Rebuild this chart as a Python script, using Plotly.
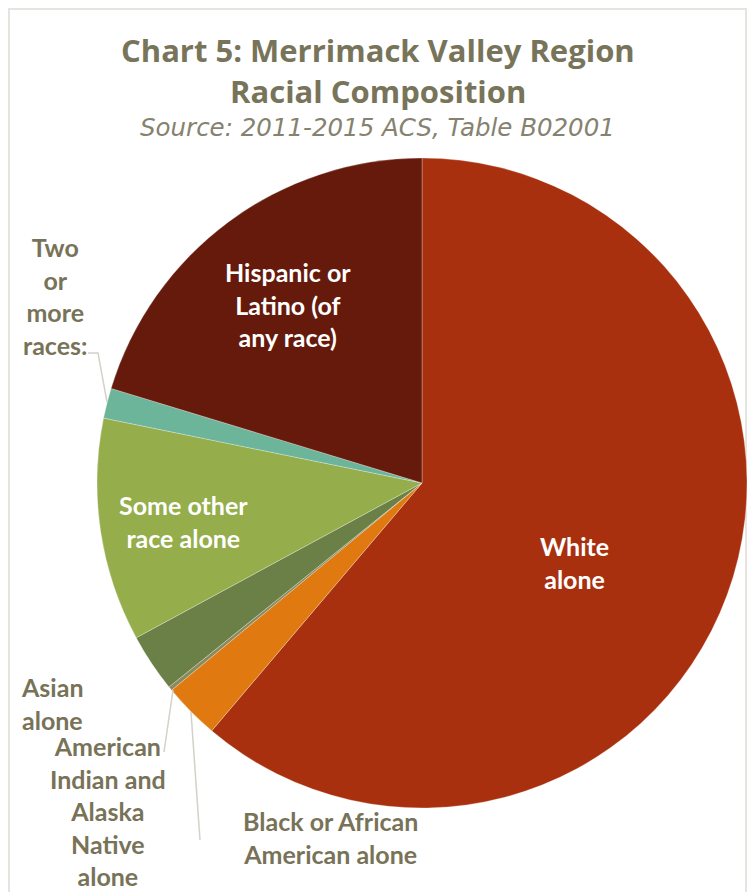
import plotly.graph_objects as go

categories = ["White alone", "Black or African American alone",
              "American Indian and Alaska Native alone", "Asian alone",
              "Some other race alone", "Two or more races:",
              "Hispanic or Latino (of any race)"]
shares = [61.2, 2.8, 0.2, 2.9, 11.1, 1.5, 20.3]
colors = ["#a9300f", "#e07a10", "#8c8a5c", "#6b8047", "#95ad4a", "#6db59a", "#651a0c"]

W, H = 749, 892
cx, cy, R = 422, 483, 325

fig = go.Figure(go.Pie(
    labels=categories, values=shares, sort=False, direction="clockwise", rotation=0,
    marker=dict(colors=colors, line=dict(color="rgba(255,255,255,0.35)", width=0.8)),
    textinfo="none", hoverinfo="label+percent", showlegend=False,
    domain=dict(x=[(cx - R) / W, (cx + R) / W], y=[(H - cy - R) / H, (H - cy + R) / H]),
))

def px(x): return x / W
def py(y): return 1 - y / H

TITLE = "#78745a"
LBL = "#787358"
LINE = "#d3d1c9"
ann = []
def add(text, x, y, color, size, xanchor="center", font="Lato"):
    ann.append(dict(text=text, x=px(x), y=py(y), xref="paper", yref="paper",
                    showarrow=False, xanchor=xanchor, yanchor="middle",
                    font=dict(family=font, size=size, color=color), align=xanchor))

add("<b>Chart 5: Merrimack Valley Region</b>", 378, 50, TITLE, 31, font="Open Sans")
add("<b>Racial Composition</b>", 378, 91, TITLE, 31, font="Open Sans")
add("<i>Source: 2011-2015 ACS, Table B02001</i>", 378, 127, "#858270", 24.5, font="DejaVu Sans")

LS = 25
# inside labels
add("<b>White<br>alone</b>", 574, 562, "white", LS)
add("<b>Some other<br>race alone</b>", 183, 521, "white", LS)
add("<b>Hispanic or<br>Latino (of<br>any race)</b>", 288, 305, "white", LS)

# outside labels
add("<b>Two<br>or<br>more<br>races:</b>", 55, 296, LBL, LS)
add("<b>Asian<br>alone</b>", 19, 703, LBL, LS, xanchor="left")
add("<b>American<br>Indian and<br>Alaska<br>Native<br>alone</b>", 108, 811, LBL, LS)
add("<b>Black or African<br>American alone</b>", 330, 837, LBL, LS)

shapes = [
    dict(type="rect", xref="paper", yref="paper", x0=px(9), x1=px(746), y0=py(900), y1=py(9),
         line=dict(color="#e6e4de", width=2), layer="below"),
    dict(type="path", xref="paper", yref="paper",
         path=f"M {px(88)} {py(353)} L {px(98)} {py(353)} L {px(107)} {py(402)}",
         line=dict(color=LINE, width=1.5)),
    dict(type="line", xref="paper", yref="paper", x0=px(173), y0=py(690), x1=px(164), y1=py(752),
         line=dict(color=LINE, width=1.5)),
    dict(type="line", xref="paper", yref="paper", x0=px(191), y0=py(712), x1=px(200), y1=py(840),
         line=dict(color=LINE, width=1.5)),
]

fig.update_layout(width=W, height=H, margin=dict(l=0, r=0, t=0, b=0),
                  paper_bgcolor="white", plot_bgcolor="white",
                  annotations=ann, shapes=shapes)
fig.write_html("out.html", config={"displayModeBar": False},
               post_script="document.body.style.margin='0';document.body.style.overflow='hidden';")
